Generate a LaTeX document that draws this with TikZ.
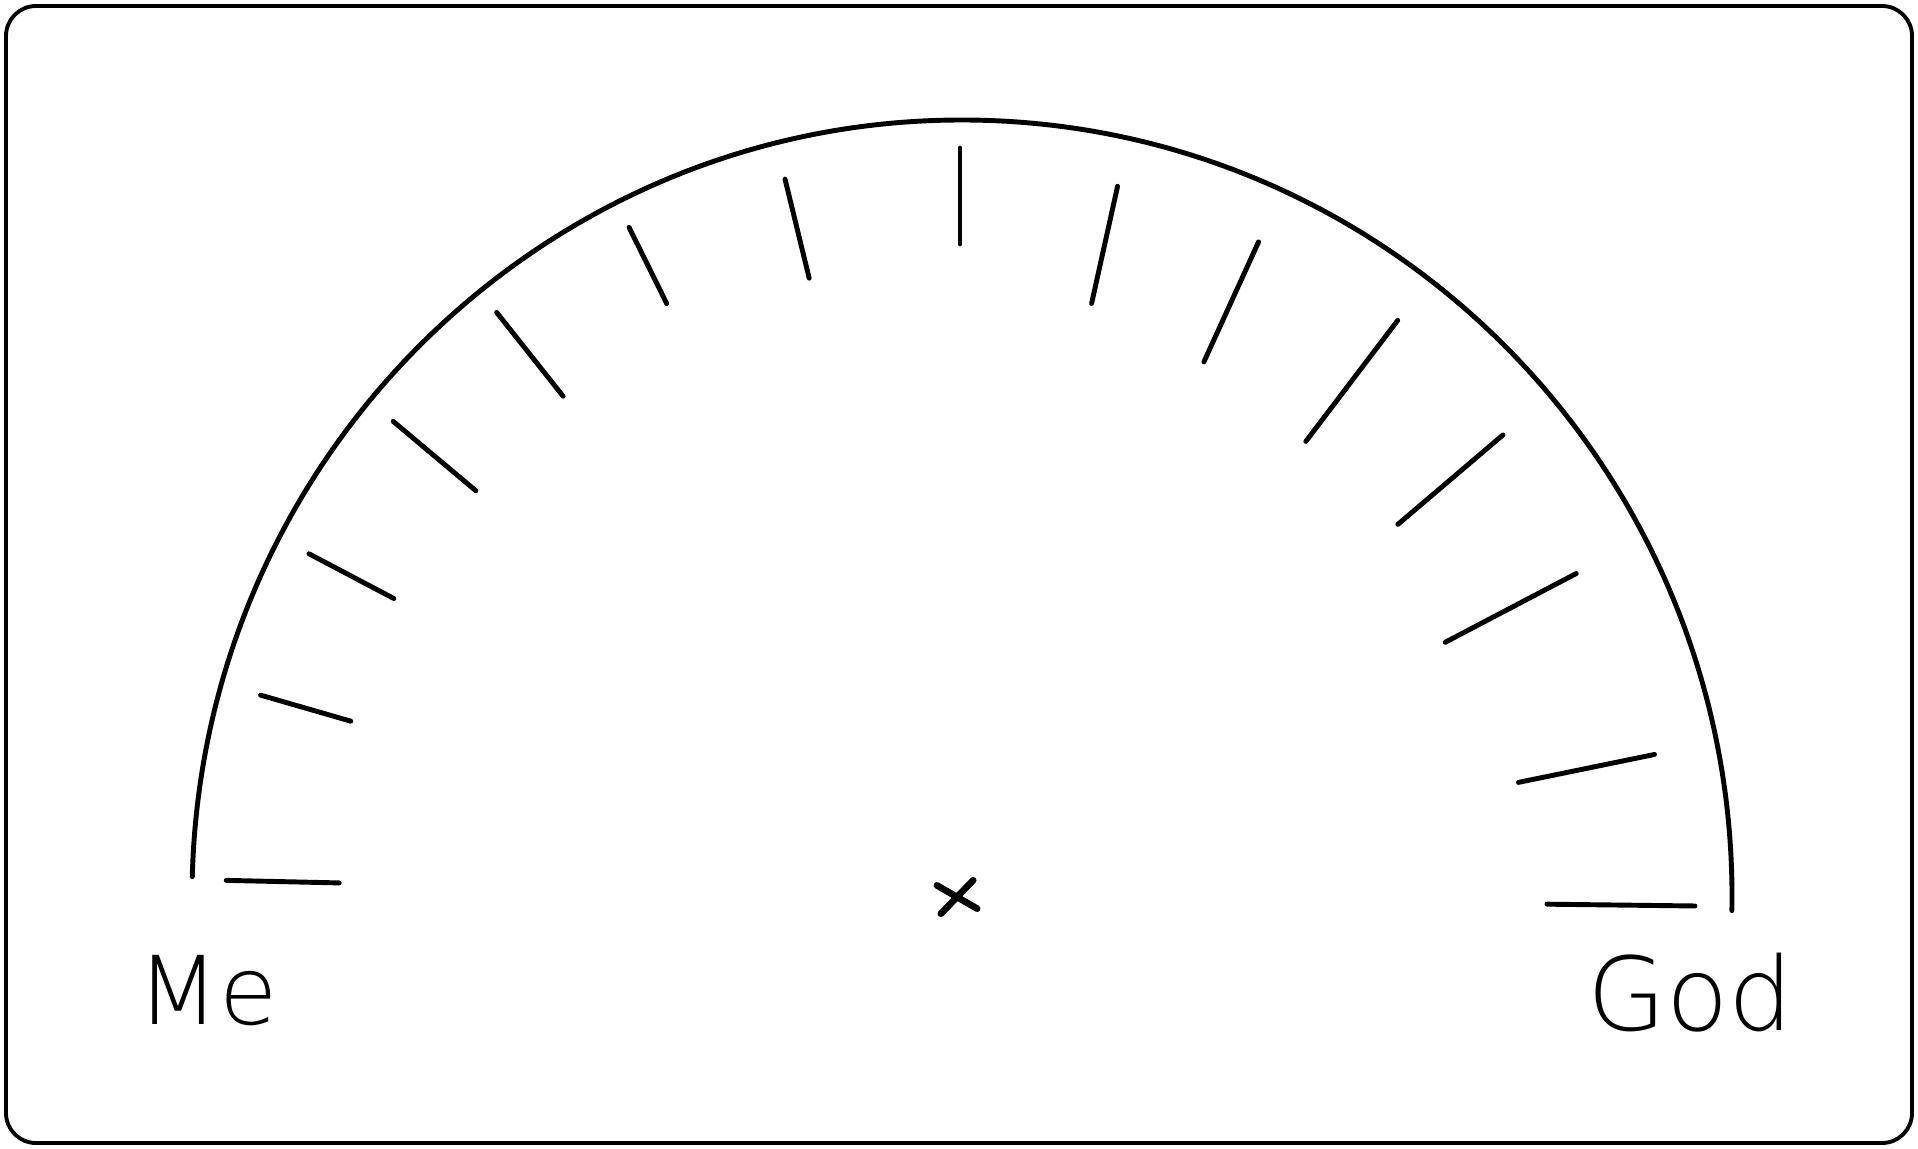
\documentclass[tikz,border=0pt]{standalone}
\usepackage{fontspec}
\newfontfamily\handfont{DejaVu Sans ExtraLight}
\usetikzlibrary{shapes.misc}

\begin{document}
\begin{tikzpicture}[line cap=round, every node/.style={font=\handfont}]
    \useasboundingbox (0,0) rectangle (19.18,11.48);
    \draw[line width=1.1pt, rounded corners=0.3cm] (0.06,0.05) rectangle (19.12,11.42);

    % centre of the scale
    \node[cross out, draw, line width=1.9pt, minimum width=0.3cm, minimum height=0.22cm, inner sep=0pt, rotate=8] (ctr) at (9.57,2.51) {};

    % outer rim
    \draw[line width=1.4pt] (9.62,2.51) ++(-1:7.70 and 7.77) arc [start angle=-1, end angle=178.5, x radius=7.70, y radius=7.77];

    % ticks: angle / inner radius / outer radius
    \foreach \a/\ri/\ro in {178.7/6.21/7.34, 163.9/6.34/7.28, 152.2/6.40/7.36, 140/6.32/7.40, 128.4/6.39/7.46,
                            116.3/6.62/7.47, 103.7/6.37/7.39, 90/6.53/7.49, 77.5/6.08/7.28, 65.5/5.88/7.20,
                            52.8/5.72/7.24, 40.4/5.75/7.13, 27.7/5.48/6.96, 11.6/5.70/7.09, -0.7/5.87/7.35} {
      \draw[line width=1.4pt] (9.60,2.51) ++(\a:\ri) -- ++(\a:{\ro-\ri});
    }

    \node[font=\handfont\fontsize{27}{30}\selectfont] (me) at (2.08,1.57) {Me};
    \node[font=\handfont\fontsize{29}{32}\selectfont] (god) at (16.90,1.55) {God};
\end{tikzpicture}
\end{document}
